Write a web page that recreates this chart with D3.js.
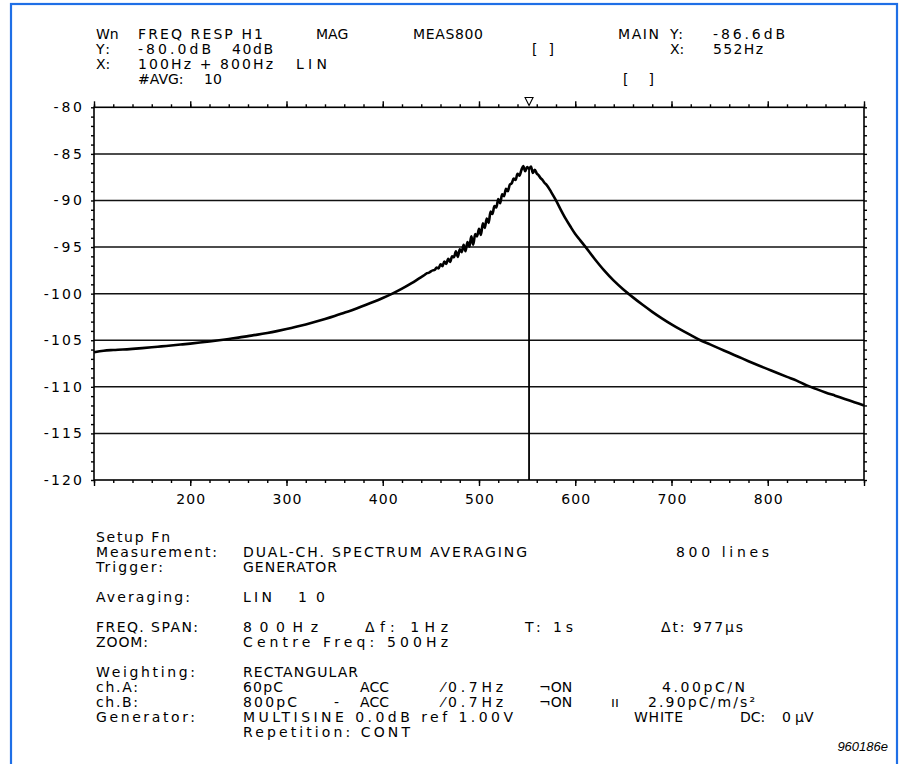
<!DOCTYPE html>
<html><head><meta charset="utf-8">
<script src="https://cdn.jsdelivr.net/npm/d3@7/dist/d3.min.js"></script>
<style>
body{margin:0;background:#fff}
svg{display:block}
text{font-family:"DejaVu Sans",sans-serif;font-size:14px;fill:#000}
</style>
</head><body>
<svg id="c" width="904" height="764"></svg>
<script>
// ---------- data ----------
const freqHz = [
 100,110,120,130,140,150,160,170,180,190,200,210,220,230,240,250,260,270,280,290,
 300,310,320,330,340,350,360,370,380,390,400,410,420,430,440,
 442,444,446,448,450,452,454,456,458,460,462,464,466,468,470,472,474,476,478,480,
 482,484,486,488,490,492,494,496,498,500,502,504,506,508,510,512,514,516,518,520,
 522,524,526,528,530,532,534,536,538,540,542,544,546,548,550,552,554,556,558,560,
 562,564,566,568,570,575,580,585,590,595,600,605,610,620,630,640,650,660,670,680,
 690,700,710,720,730,740,750,760,770,780,790,800,810,820,830,840,850,860,870,880,890,900
];
const magDb = [
 -106.3,-106.12,-106.05,-106.0,-105.93,-105.85,-105.76,-105.66,-105.56,-105.46,-105.36,-105.25,-105.13,-105.0,-104.86,-104.72,-104.56,-104.4,-104.22,-104.02,
 -103.8,-103.56,-103.3,-103.02,-102.72,-102.4,-102.05,-101.7,-101.3,-100.9,-100.47,-100.0,-99.47,-98.88,-98.22,
 -98.1,-97.95,-97.8,-97.75,-97.6,-97.5,-97.45,-97.2,-97.3,-96.85,-97.05,-96.55,-96.8,-96.25,-96.6,-96.0,-96.1,-95.45,-96.05,-95.25,
 -95.55,-94.75,-95.45,-94.45,-94.95,-93.85,-94.75,-93.6,-93.85,-93.05,-93.7,-92.45,-92.95,-91.95,-92.4,-91.2,-91.45,-90.6,-90.75,-89.85,
 -90.3,-89.35,-89.55,-88.75,-89.0,-88.3,-88.15,-87.65,-87.8,-87.15,-87.35,-86.75,-86.3,-86.85,-86.4,-86.6,-86.35,-87.05,-86.7,-87.1,
 -87.3,-87.6,-87.8,-88.1,-88.3,-89.1,-90.0,-91.0,-91.95,-92.8,-93.6,-94.25,-94.9,-96.25,-97.5,-98.6,-99.55,-100.4,-101.2,-101.95,
 -102.65,-103.3,-103.9,-104.45,-105.0,-105.45,-105.9,-106.35,-106.8,-107.25,-107.68,-108.1,-108.52,-108.93,-109.33,-109.82,-110.22,-110.6,-110.95,-111.3,-111.65,-112.0
];
const yTickLabels = [-80,-85,-90,-95,-100,-105,-110,-115,-120];
const xTickLabels = [200,300,400,500,600,700,800];
const markerHz = 552, markerDb = -86.6;
const xDomain = [100, 900], yDomain = [-120, -80];

// ---------- layout ----------
const svg = d3.select("#c");
const L = 94, R = 864, T = 107.3, B = 480;
const x = d3.scaleLinear().domain(xDomain).range([L, R]);
const y = d3.scaleLinear().domain(yDomain).range([B, T]);

// blue frame
svg.append("rect").attr("x",11).attr("y",4).attr("width",886).attr("height",780)
  .attr("fill","none").attr("stroke","#1f6fe6").attr("stroke-width",2.2);

// grid lines
svg.append("g").selectAll("line").data(yTickLabels.filter(v=>v>-120 && v<-80)).join("line")
  .attr("x1",L).attr("x2",R).attr("y1",d=>y(d)).attr("y2",d=>y(d))
  .attr("stroke","#111").attr("stroke-width",1.5);

// axes ticks
const minorX = d3.range(100, 901, 20), majorX = d3.range(100, 901, 100);
const minorY = d3.range(-120, -79, 1);
function styleAxis(g){ g.select(".domain").remove(); g.selectAll("line").attr("stroke","#000").attr("stroke-width",1.4); g.selectAll("text").remove(); }
svg.append("g").attr("transform",`translate(0,${T})`).call(d3.axisTop(x).tickValues(minorX).tickSize(3).tickFormat("")).call(styleAxis);
svg.append("g").attr("transform",`translate(0,${T})`).call(d3.axisTop(x).tickValues(majorX).tickSize(6).tickFormat("")).call(styleAxis);
svg.append("g").attr("transform",`translate(0,${B})`).call(d3.axisBottom(x).tickValues(minorX).tickSize(3).tickFormat("")).call(styleAxis);
svg.append("g").attr("transform",`translate(0,${B})`).call(d3.axisBottom(x).tickValues(majorX).tickSize(6).tickFormat("")).call(styleAxis);
svg.append("g").attr("transform",`translate(${L},0)`).call(d3.axisLeft(y).tickValues(minorY).tickSize(3).tickFormat("")).call(styleAxis);
svg.append("g").attr("transform",`translate(${R},0)`).call(d3.axisRight(y).tickValues(minorY).tickSize(3).tickFormat("")).call(styleAxis);

// plot box
svg.append("rect").attr("x",L).attr("y",T).attr("width",R-L).attr("height",B-T)
  .attr("fill","none").attr("stroke","#000").attr("stroke-width",1.6);

// tick labels
const ya = svg.append("g").attr("transform",`translate(${L},0)`)
  .call(d3.axisLeft(y).tickValues(yTickLabels).tickSize(0).tickPadding(12).tickFormat(d=>String(d)));
ya.select(".domain").remove();
ya.selectAll("text").attr("font-size",14).attr("textLength",d=>String(d).length*9.8-1).attr("lengthAdjust","spacing");
const xa = svg.append("g").attr("transform",`translate(0,${B})`)
  .call(d3.axisBottom(x).tickValues(xTickLabels).tickSize(0).tickPadding(14).tickFormat(d=>String(d)));
xa.select(".domain").remove();
xa.selectAll("text").attr("font-size",14).attr("textLength",29).attr("lengthAdjust","spacing");

// curve
const pts = freqHz.map((f,i)=>[f, magDb[i]]);
svg.append("path").datum(pts)
  .attr("d", d3.line().curve(d3.curveMonotoneX).x(d=>x(d[0])).y(d=>y(d[1])))
  .attr("fill","none").attr("stroke","#000").attr("stroke-width",2.6).attr("stroke-linejoin","round");

// marker line and triangle
svg.append("line").attr("x1",x(markerHz)).attr("x2",x(markerHz)).attr("y1",y(markerDb)).attr("y2",B)
  .attr("stroke","#000").attr("stroke-width",1.8);
const mx = x(markerHz);
svg.append("path").attr("d",`M${mx-4},97.5 L${mx+4},97.5 L${mx},105.5 Z`)
  .attr("fill","none").attr("stroke","#000").attr("stroke-width",1.1);

// ---------- annotation text ----------
const notes = [
 ["Wn",96,34,17],["FREQ RESP H1",138,34,125],["MAG",316,34,32],["MEAS800",413,34,70],
 ["MAIN",618,34,41],["Y:",670,34,13],[`${markerDb.toFixed(1)}dB`,713,34,72],
 ["Y:",96,49,14],["-80.0dB",138,49,73],["40dB",232,49,41],["[ ]",532,49,22],["X:",670,49,13],[`${markerHz}Hz`,713,49,50],
 ["X:",96,64,14],["100Hz + 800Hz",138,64,135],["LIN",296,64,31],
 ["#AVG:",138,79,45],["10",204,79,17],["[  ]",623,79,31],
 ["Setup Fn",96,537,74],
 ["Measurement:",96,552,121],["DUAL-CH. SPECTRUM AVERAGING",243,552,284],["800 lines",676,552,93],
 ["Trigger:",96,567,67],["GENERATOR",243,567,94],
 ["Averaging:",96,597,94],["LIN",243,597,29],["10",298,597,27],
 ["FREQ. SPAN:",96,627,102],["800Hz",243,627,75],["Δf:  1Hz",365,627,83],["T:  1s",525,627,48],["Δt:  977µs",661,627,82],
 ["ZOOM:",96,642,52],["Centre Freq:  500Hz",243,642,205],
 ["Weighting:",96,672,99],["RECTANGULAR",243,672,115],
 ["ch.A:",96,687,42],["60pC",243,687,40],["ACC",360,687,29],["⁄0.7Hz",442,687,61],["¬ON",539,687,28],["4.00pC/N",662,687,83],
 ["ch.B:",96,702,42],["800pC",243,702,54],["-",334,702,8],["ACC",360,702,29],["⁄0.7Hz",442,702,61],["¬ON",539,702,28],["ıı",611,702,6],["2.90pC/m/s²",648,702,107],
 ["Generator:",96,717,99],["MULTISINE  0.0dB ref 1.00V",243,717,270],["WHITE",634,717,49],["DC:",740,717,23],["0",782,717,8],["µV",795,717,17],
 ["Repetition:  CONT",243,732,167]
];
svg.append("g").selectAll("text").data(notes).join("text")
  .attr("x",d=>d[1]).attr("y",d=>d[2]+5)
  .text(d=>d[0])
  .each(function(d){
    const natural = this.getComputedTextLength();
    if (d[0].length > 1 && natural < d[3]) {
      d3.select(this).attr("textLength", d[3]).attr("lengthAdjust","spacing");
    }
  });

svg.append("text").attr("x",888).attr("y",751).attr("text-anchor","end")
  .style("font-family","'Liberation Sans',Arial,sans-serif").style("font-style","italic").style("font-size","13px")
  .text("960186e");
</script>
</body></html>
